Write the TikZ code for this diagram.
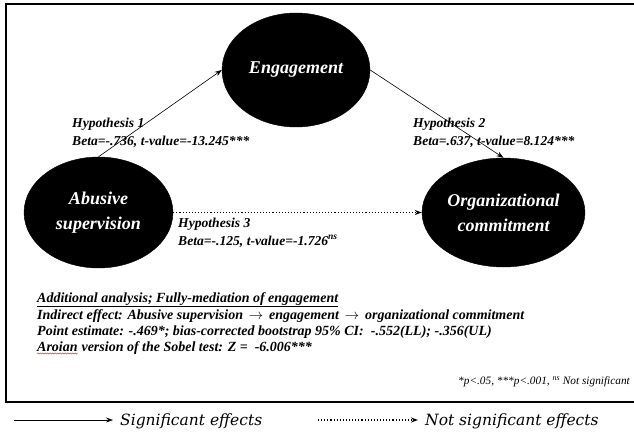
\documentclass[tikz,border=0pt]{standalone}
\usepackage{fontspec}
\setmainfont{Liberation Serif}
\newfontfamily\legfont{DejaVu Serif}
\usetikzlibrary{arrows.meta,shapes.geometric,decorations.pathmorphing}
\tikzset{
  construct/.style={ellipse,fill=black,draw=black,inner sep=0pt,text=white,align=center,
    font=\fontsize{18}{25}\selectfont\bfseries\itshape},
  lbl/.style={anchor=base west,inner sep=0pt,font=\fontsize{13.6}{15}\selectfont\bfseries\itshape},
  blocktxt/.style={lbl,font=\fontsize{14}{16}\selectfont\bfseries\itshape},
  sigarrow/.style={-{Stealth[length=7pt,width=5pt]},line width=0.6pt},
  nsarrow/.style={-{Stealth[length=7pt,width=5pt,open]},line width=1.1pt,dotted},
  legtxt/.style={anchor=base west,inner sep=0pt,font=\fontsize{15.5}{17}\selectfont\legfont\itshape}
}
\begin{document}
\begin{tikzpicture}[x=1pt,y=-1pt]
\useasboundingbox (0,0) rectangle (634,433);
\draw[line width=1.2pt] (634,4) -- (6,4) -- (6,402) -- (634,402);

\node[construct,minimum width=148pt,minimum height=114pt] (eng) at (296,70) {Engagement};
\node[construct,minimum width=149pt,minimum height=111pt] (abu) at (98.5,212.5) {Abusive\\supervision};
\node[construct,minimum width=163pt,minimum height=109pt] (org) at (503.5,212.5) {Organizational\\commitment};

\draw[sigarrow] (abu.north) -- (eng.west);
\draw[sigarrow] (eng.east) -- (org.north);
\draw[nsarrow] (abu.east) -- (org.west);

\node[lbl] (h1) at (72,128) {Hypothesis 1};
\node[lbl] (b1) at (72,146) {Beta=-.736, t-value=-13.245***};
\node[lbl] (h2) at (413,128) {Hypothesis 2};
\node[lbl] (b2) at (413,146) {Beta=.637, t-value=8.124***};
\node[lbl] (h3) at (178,227) {Hypothesis 3};
\node[lbl] (b3) at (178,245) {Beta=-.125, t-value=-1.726\textsuperscript{ns}};

\node[blocktxt] (a1) at (37,302) {\underline{Additional analysis; Fully-mediation of engagement}};
\node[blocktxt] (a2) at (37,319) {Indirect effect: Abusive supervision\ \,$\rightarrow$\ \,engagement\ \,$\rightarrow$\ \,organizational commitment};
\node[blocktxt] (a3) at (37,335) {Point estimate: -.469*; bias-corrected bootstrap 95\% CI:\ \ -.552(LL); -.356(UL)};
\node[blocktxt] (a4) at (37,351) {Aroian};
\node[blocktxt] (a5) at (a4.base east) {\ version of the Sobel test: Z =\ \ -6.006***};
\draw[red,line width=0.4pt,decorate,decoration={snake,amplitude=0.6pt,segment length=2.5pt}]
  ([yshift=-2.5pt]a4.base west) -- ([yshift=-2.5pt]a4.base east);

\node[anchor=base east,inner sep=0pt,font=\fontsize{11.3}{13}\selectfont\itshape] (fn) at (630,384)
  {*p<.05, ***p<.001, \textsuperscript{ns} Not significant};

\coordinate (s1) at (14,420);
\coordinate (s2) at (113,420);
\coordinate (n1) at (318,420);
\coordinate (n2) at (418,420);
\draw[sigarrow] (s1) -- (s2);
\draw[nsarrow] (n1) -- (n2);
\node[legtxt] (l1) at (120,425) {Significant effects};
\node[legtxt] (l2) at (425,425) {Not significant effects};
\end{tikzpicture}
\end{document}
